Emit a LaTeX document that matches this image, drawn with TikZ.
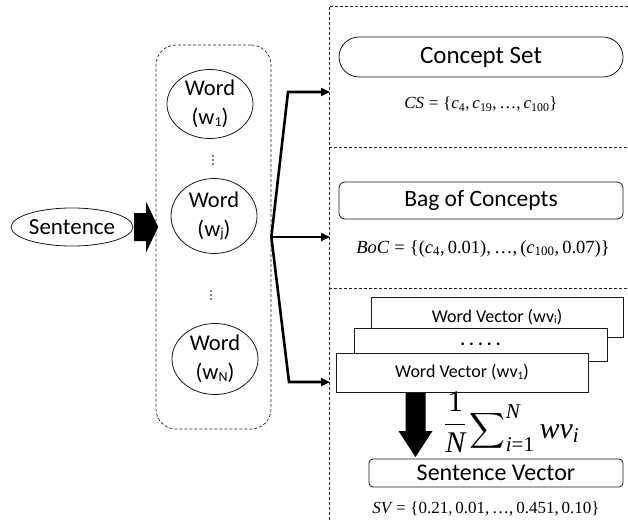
\RequirePackage{fix-cm}
\documentclass[tikz,border=0pt]{standalone}
\usepackage{amsmath}
\usepackage{exscale}
\usepackage[no-math]{fontspec}
\setmainfont{Carlito}
\newfontfamily\mf{Liberation Serif}
\usepackage{graphicx}
\usetikzlibrary{arrows.meta,calc,shapes.geometric}
% small lowered index used in the word labels
\newcommand{\lowidx}[1]{\raisebox{-0.15ex}{\scalebox{0.62}{#1}}}
% serif pieces for the formulas
\newcommand{\mv}[1]{\text{\mf\itshape #1}}
\newcommand{\mn}[1]{\text{\mf #1}}
\newcommand{\meq}{\mathrel{\mn{=}}}
\newcommand{\mcm}{\mathpunct{\mn{,}}}
\newcommand{\mlb}{\mathopen{\mn{\{}}}
\newcommand{\mrb}{\mathclose{\mn{\}}}}
\newcommand{\mlp}{\mathopen{\mn{(}}}
\newcommand{\mrp}{\mathclose{\mn{)}}}
\newcommand{\mdots}{\mn{\textellipsis}}
\begin{document}
\begin{tikzpicture}[x=1pt,y=-1pt,
  outline/.style={draw=black!90,line width=0.8pt},
  panel/.style={draw=black!85,line width=0.7pt,dash pattern=on 3pt off 2pt},
  wordnode/.style={ellipse,outline,fill=white,minimum width=86pt,minimum height=70pt,
    inner sep=0pt,align=center,font=\fontsize{22.5}{29}\selectfont},
  box/.style={rectangle,outline,fill=white,inner sep=0pt},
  vecbox/.style={box,minimum width=252pt,font=\fontsize{18}{20}\selectfont},
  mathlabel/.style={inner sep=0pt,anchor=base,font=\fontsize{17}{20}\selectfont},
  branch/.style={line width=2.6pt,draw=black,line join=miter},
  branchtip/.style={branch,-{Triangle[length=9pt,width=8pt]}},
  bigdot/.style={fill=black,circle,inner sep=0pt,minimum size=1.6pt}
]
\useasboundingbox (0,0) rectangle (628,521);

% ---- input sentence and its words ----
\node[ellipse,outline,minimum width=120pt,minimum height=38pt,inner sep=0pt,
  font=\fontsize{23}{26}\selectfont] (sent) at (72,227) {Sentence};

\node[draw=black!85,line width=0.7pt,dash pattern=on 3pt off 2pt,rounded corners=20pt,
  minimum width=115pt,minimum height=384pt,inner sep=0pt] (words) at (213.5,237) {};

\node[wordnode,minimum height=69pt] (w1) at (210,104) {Word\\(w\lowidx{1})};
\node[wordnode,minimum height=75pt] (wj) at (214,216) {Word\\(w\lowidx{j})};
\node[wordnode,minimum height=71pt] (wN) at (215,359) {Word\\(w\lowidx{N})};

\foreach \n/\x/\y in {da/213/160, db/211/295} {
  \coordinate (\n) at (\x,\y);
  \foreach \d in {-4,0,4} \node[bigdot] at ($(\n)+(0,\d)$) {};
}

% thick block arrow from the sentence into the word group
\fill[black] ($(sent.east)+(1,-14)$) -- ++(12,0) -- ++(0,-11) -- ($(sent.east)+(25,0)$)
  -- ($(sent.east)+(13,25)$) -- ++(0,-11) -- ($(sent.east)+(1,14)$) -- cycle;

% ---- right-hand panels ----
\coordinate (ptop) at (329,6);
\coordinate (pbot) at (329,521);
\draw[panel] (628,6) -- (ptop) -- (pbot);
\draw[panel] (329,147) -- (628,147);
\draw[panel] (329,288) -- (628,288);

% ---- branching connector ----
\coordinate (b1) at (288,92);
\coordinate (b3) at (289,382);
\coordinate (t1) at (330,92);
\coordinate (t2) at (330,237);
\coordinate (t3) at (330,382);
\draw[branchtip] (words.east) -- (b1) -- (t1);
\draw[branchtip] (words.east) -- (t2);
\draw[branchtip] (words.east) -- (b3) -- (t3);

% ---- concept set ----
\node[box,rounded corners=20pt,minimum width=284pt,minimum height=40pt,
  font=\fontsize{25}{28}\selectfont] (cset) at (481,57) {Concept Set};
\node[mathlabel] (csf) at (481,109)
  {$\mv{CS}\meq\mlb\mv{c}_{\mn{4}}\mcm\mv{c}_{\mn{19}}\mcm\mdots\mcm\mv{c}_{\mn{100}}\mrb$};

% ---- bag of concepts ----
\node[box,rounded corners=6pt,minimum width=284pt,minimum height=37pt,
  font=\fontsize{23.5}{26}\selectfont] (boc) at (481,200.5) {Bag of Concepts};
\node[mathlabel,font=\fontsize{18.5}{20}\selectfont] (bocf) at (483,253)
  {$\mv{BoC}\meq\mlb\mlp\mv{c}_{\mn{4}}\mcm\mn{0.01}\mrp\mcm\mdots\mcm\mlp\mv{c}_{\mn{100}}\mcm\mn{0.07}\mrp\mrb$};

% ---- word vectors and their average ----
\node[vecbox,minimum height=40pt] (wvi) at (497,317) {Word Vector (wv\lowidx{i})};
\node[vecbox,minimum width=253pt,minimum height=33pt] (wvm) at (480.5,344.5)
  {\bfseries .\ .\ .\ .\ .};
\node[vecbox,minimum height=39pt] (wv1) at (462,372.5) {Word Vector (wv\lowidx{1})};

\node[box,rounded corners=4pt,minimum width=254pt,minimum height=28pt,
  font=\fontsize{24}{26}\selectfont] (svec) at (496,473) {Sentence Vector};
\node[mathlabel] (svf) at (486,513)
  {$\mv{SV}\meq\mlb\mn{0.21}\mcm\mn{0.01}\mcm\mdots\mcm\mn{0.451}\mcm\mn{0.10}\mrb$};

\coordinate (avg) at (415.5,393);
\fill[black] ($(avg)+(-10,0)$) -- ++(20,0) -- ++(0,38) -- ++(7,0) -- ($(avg)+(0,64)$)
  -- ($(avg)+(-17,38)$) -- ++(7,0) -- cycle;
\node[anchor=base west,inner sep=0pt,font=\fontsize{30}{34}\selectfont] (avgf) at (444,438)
  {$\raisebox{6pt}{$\displaystyle\frac{\mn{1}}{\mv{N}}$}\mkern-1mu
   \displaystyle\sum\nolimits_{\mv{i}\mn{=1}}^{\mv{N}}\mv{wv}_{\mv{i}}$};
\end{tikzpicture}
\end{document}
